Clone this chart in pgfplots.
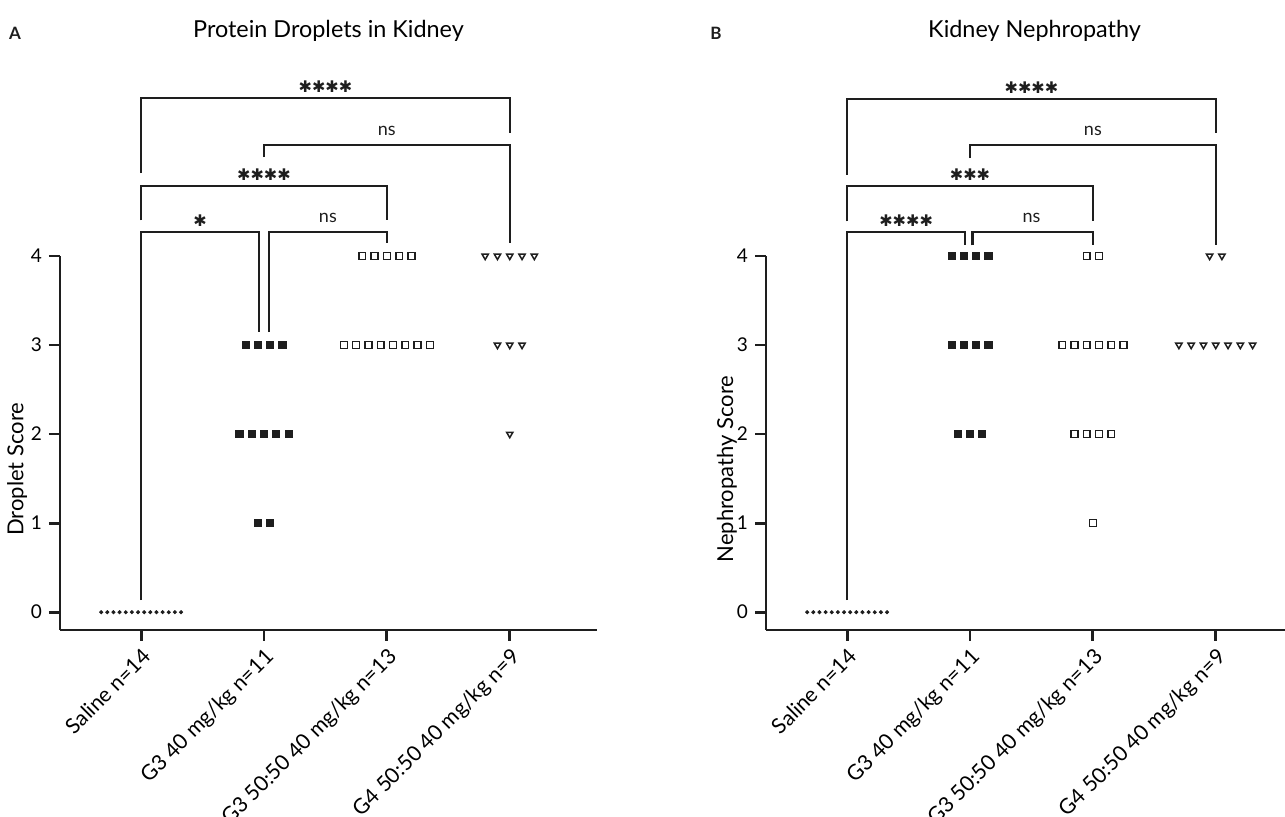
\documentclass[border=0pt]{standalone}
\usepackage{fontspec}
\setmainfont{Lato}
\newfontfamily\dejavu{DejaVu Sans}
\usepackage{pgfplots}
\pgfplotsset{compat=1.18}
\definecolor{ink}{HTML}{1E1E1E}
\begin{document}
\begin{tikzpicture}
\pgfplotsset{
  myax/.style={
    scale only axis, width=268.5pt, height=187pt,
    xmin=-0.66, xmax=3.71, ymin=-0.2, ymax=4,
    axis x line*=bottom, axis y line*=left,
    axis line style={line width=1.4pt, -, ink},
    xtick={0,1,2,3},
    xticklabels={Saline n=14, G3 40 mg/kg n=11, G3 50:50 40 mg/kg n=13, G4 50:50 40 mg/kg n=9},
    x tick label style={rotate=45, anchor=north east, font=\fontsize{10.6}{12}\selectfont, inner sep=2pt},
    ytick={0,1,2,3,4},
    y tick label style={font=\fontsize{9.5}{11}\selectfont},
    tick align=outside, major tick length=5.5pt,
    tick style={line width=1.4pt, ink},
    /pgf/number format/assume math mode=true,
    ylabel style={at={(axis description cs:-0.08,0.43)}, anchor=center, font=\fontsize{11}{13}\selectfont},
    title style={at={(axis description cs:0.5,1)}, anchor=center, yshift=106.5pt, font=\fontsize{11.7}{14}\selectfont},
    clip=false,
  },
  sal/.style={only marks, mark=*, mark size=0.8pt, ink},
  gthree/.style={only marks, mark=square*, mark size=1.8pt, ink},
  gmix/.style={only marks, mark=square, mark size=1.7pt, ink, mark options={line width=0.75pt}},
  gfour/.style={only marks, mark=triangle, mark size=1.8pt, ink, mark options={rotate=180, line width=0.75pt}},
}
\tikzset{
  br/.style={line width=1.1pt, ink},
  sig/.style={anchor=south, inner sep=0pt, yshift=2.5pt, font=\fontsize{8}{10}\selectfont\dejavu, ink},
  ns/.style={anchor=south, inner sep=0pt, yshift=4.5pt, font=\fontsize{9}{11}\selectfont, ink},
}

% ---------------- Panel A ----------------
\begin{axis}[myax, at={(0pt,0pt)}, anchor=south west,
  title={Protein Droplets in Kidney}, ylabel={Droplet Score}]
\addplot[sal] coordinates {(-0.325,0) (-0.275,0) (-0.225,0) (-0.175,0) (-0.125,0) (-0.075,0) (-0.025,0) (0.025,0) (0.075,0) (0.125,0) (0.175,0) (0.225,0) (0.275,0) (0.325,0)};
\addplot[gthree] coordinates {(0.85,3) (0.95,3) (1.05,3) (1.15,3)
  (0.8,2) (0.9,2) (1.0,2) (1.1,2) (1.2,2)
  (0.95,1) (1.05,1)};
\addplot[gmix] coordinates {(1.8,4) (1.9,4) (2.0,4) (2.1,4) (2.2,4)
  (1.65,3) (1.75,3) (1.85,3) (1.95,3) (2.05,3) (2.15,3) (2.25,3) (2.35,3)};
\addplot[gfour] coordinates {(2.8,4) (2.9,4) (3.0,4) (3.1,4) (3.2,4)
  (2.9,3) (3.0,3) (3.1,3)
  (3.0,2)};
% brackets
\draw[br] (axis cs:0,4.93) |- (axis cs:3,5.775) -- (axis cs:3,5.38);
\node[sig] at (axis cs:1.5,5.775) {✱✱✱✱};
\draw[br] (axis cs:1,5.11) |- (axis cs:3,5.25) -- (axis cs:3,4.146);
\node[ns] at (axis cs:2,5.25) {ns};
\draw[br] (axis cs:0,4.40) |- (axis cs:2,4.79) -- (axis cs:2,4.40);
\node[sig] at (axis cs:1,4.79) {✱✱✱✱};
\draw[br] (axis cs:0,0.135) |- (axis cs:0.96,4.27) -- (axis cs:0.96,3.146);
\node[sig] at (axis cs:0.48,4.27) {✱};
\draw[br] (axis cs:1.04,3.146) |- (axis cs:2,4.27) -- (axis cs:2,4.146);
\node[ns] at (axis cs:1.52,4.27) {ns};
\end{axis}
\node[font=\fontsize{8.5}{10}\selectfont\bfseries, ink] at (-22.5pt,298.5pt) {A};

% ---------------- Panel B ----------------
\begin{axis}[myax, at={(353pt,0pt)}, anchor=south west,
  title={Kidney Nephropathy}, ylabel={Nephropathy Score},
  ylabel style={at={(axis description cs:-0.073,0.43)}}]
\addplot[sal] coordinates {(-0.325,0) (-0.275,0) (-0.225,0) (-0.175,0) (-0.125,0) (-0.075,0) (-0.025,0) (0.025,0) (0.075,0) (0.125,0) (0.175,0) (0.225,0) (0.275,0) (0.325,0)};
\addplot[gthree] coordinates {(0.85,4) (0.95,4) (1.05,4) (1.15,4)
  (0.85,3) (0.95,3) (1.05,3) (1.15,3)
  (0.9,2) (1.0,2) (1.1,2)};
\addplot[gmix] coordinates {(1.95,4) (2.05,4)
  (1.75,3) (1.85,3) (1.95,3) (2.05,3) (2.15,3) (2.25,3)
  (1.85,2) (1.95,2) (2.05,2) (2.15,2)
  (2.0,1)};
\addplot[gfour] coordinates {(2.95,4) (3.05,4)
  (2.7,3) (2.8,3) (2.9,3) (3.0,3) (3.1,3) (3.2,3) (3.3,3)};
% brackets
\draw[br] (axis cs:0,4.91) |- (axis cs:3,5.76) -- (axis cs:3,5.38);
\node[sig] at (axis cs:1.5,5.76) {✱✱✱✱};
\draw[br] (axis cs:1,5.10) |- (axis cs:3,5.25) -- (axis cs:3,4.12);
\node[ns] at (axis cs:2,5.25) {ns};
\draw[br] (axis cs:0,4.39) |- (axis cs:2,4.79) -- (axis cs:2,4.39);
\node[sig] at (axis cs:1,4.79) {✱✱✱};
\draw[br] (axis cs:0,0.135) |- (axis cs:0.96,4.27) -- (axis cs:0.96,4.12);
\node[sig] at (axis cs:0.48,4.27) {✱✱✱✱};
\draw[br] (axis cs:1.02,4.12) |- (axis cs:2,4.27) -- (axis cs:2,4.12);
\node[ns] at (axis cs:1.5,4.27) {ns};
\end{axis}
\node[font=\fontsize{8.5}{10}\selectfont\bfseries, ink] at (328pt,298.5pt) {B};

\pgfresetboundingbox
\useasboundingbox (-30pt,-93.5pt) rectangle (612.5pt,315pt);
\end{tikzpicture}
\end{document}
